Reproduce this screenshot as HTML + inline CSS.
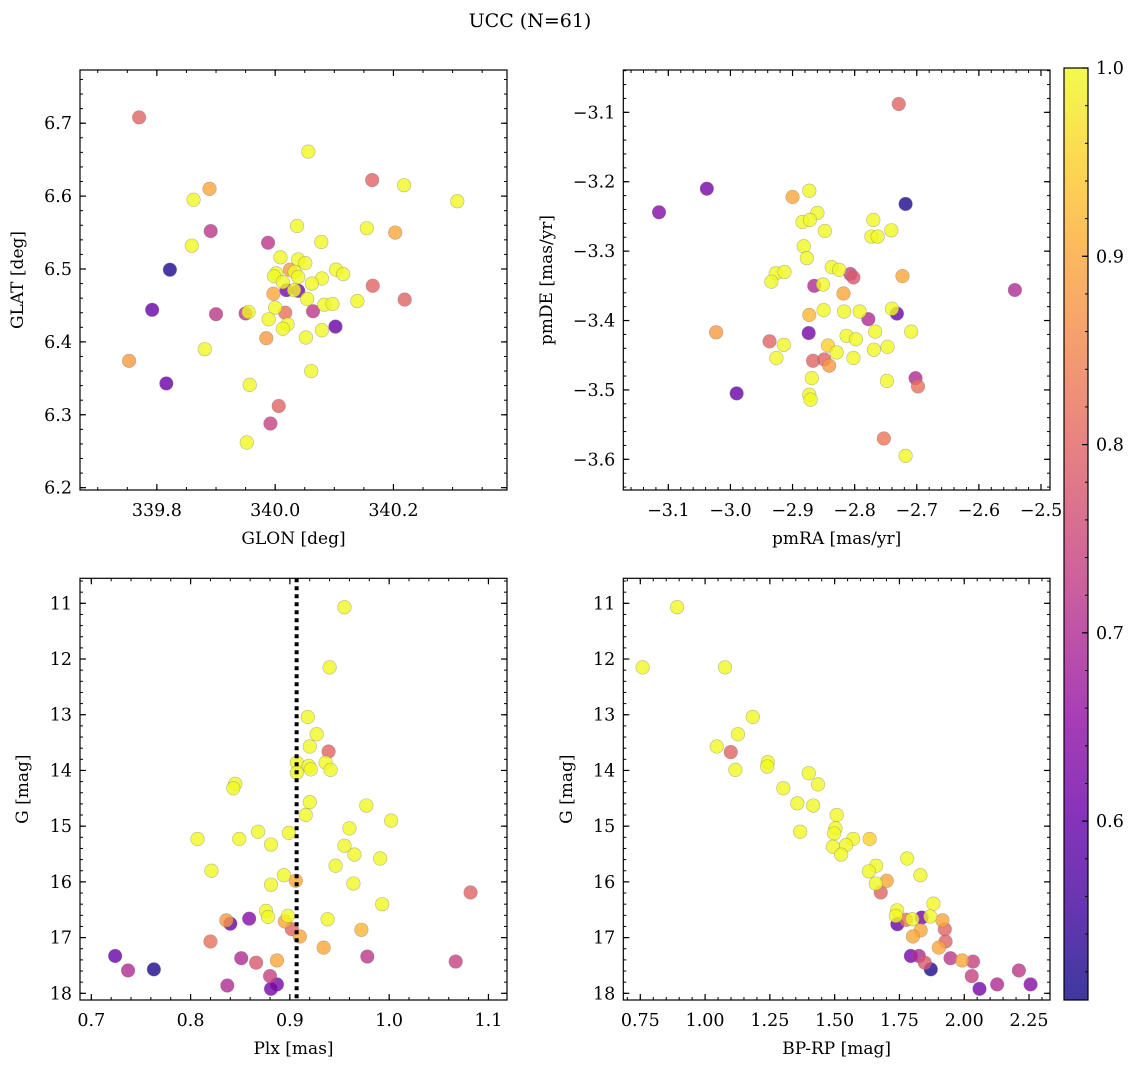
<!DOCTYPE html>
<html><head><meta charset="utf-8"><style>
body{margin:0;background:#fff;}
svg{display:block;font-family:"DejaVu Serif","Liberation Serif",serif;}
</style></head><body>
<svg id="fig" width="1136" height="1068" viewBox="0 0 1136 1068" xmlns="http://www.w3.org/2000/svg">
<rect width="1136" height="1068" fill="#fff"/>
<text x="530" y="27" font-size="19" text-anchor="middle">UCC (N=61)</text>
</svg>
<script>
// ---- Panel 1: GLON / GLAT ----
const glon = [339.770,340.056,340.164,340.218,340.308,339.889,339.862,339.891,340.037,340.155,340.203,339.859,339.988,340.078,340.009,340.039,340.051,339.822,340.025,340.002,340.033,340.103,340.115,339.998,340.039,340.079,340.013,340.062,340.165,340.019,340.039,340.032,339.997,340.054,340.219,340.139,340.083,340.097,339.792,340.000,339.900,339.950,339.955,340.064,340.017,339.989,340.021,340.013,340.079,340.102,339.985,340.052,339.881,339.753,340.061,339.816,339.957,340.006,339.992,339.952];
const glat = [6.708,6.661,6.622,6.615,6.593,6.610,6.595,6.552,6.559,6.556,6.550,6.532,6.536,6.537,6.516,6.513,6.508,6.499,6.499,6.494,6.496,6.499,6.493,6.490,6.489,6.487,6.482,6.480,6.477,6.471,6.470,6.471,6.466,6.459,6.458,6.456,6.451,6.452,6.444,6.447,6.438,6.439,6.441,6.442,6.440,6.431,6.424,6.418,6.416,6.421,6.405,6.406,6.390,6.374,6.360,6.343,6.341,6.312,6.288,6.262];
const prob1 = [0.80,1,0.80,1,1,0.90,1,0.72,1,1,0.90,1,0.72,1,1,1,1,0.52,0.88,1,1,1,1,1,1,1,1,1,0.80,0.62,0.62,1,0.90,1,0.80,1,1,1,0.60,1,0.72,0.72,1,0.72,0.82,1,1,1,1,0.60,0.88,1,1,0.88,1,0.60,1,0.80,0.74,1];
// ---- Panel 2: pmRA / pmDE ----
const pmra = [-2.729,-3.038,-3.115,-2.718,-2.900,-2.873,-2.860,-2.884,-2.872,-2.848,-2.770,-2.773,-2.763,-2.741,-2.882,-2.877,-2.837,-2.825,-2.927,-2.913,-2.934,-2.807,-2.802,-2.723,-2.542,-2.865,-2.851,-2.818,-2.850,-2.817,-2.792,-2.873,-2.778,-2.732,-2.740,-2.874,-3.023,-2.813,-2.798,-2.767,-2.709,-2.937,-2.914,-2.843,-2.829,-2.769,-2.747,-2.926,-2.802,-2.867,-2.849,-2.841,-2.869,-2.702,-2.698,-2.748,-2.990,-2.873,-2.871,-2.753,-2.718];
const pmde = [-3.088,-3.210,-3.244,-3.232,-3.222,-3.213,-3.245,-3.258,-3.255,-3.271,-3.255,-3.279,-3.279,-3.270,-3.293,-3.310,-3.323,-3.327,-3.332,-3.330,-3.344,-3.333,-3.338,-3.336,-3.356,-3.350,-3.348,-3.361,-3.385,-3.387,-3.387,-3.392,-3.398,-3.390,-3.383,-3.418,-3.417,-3.422,-3.427,-3.416,-3.416,-3.430,-3.435,-3.436,-3.446,-3.442,-3.438,-3.454,-3.454,-3.458,-3.456,-3.465,-3.483,-3.483,-3.495,-3.487,-3.505,-3.507,-3.514,-3.570,-3.595];
const prob2 = [0.80,0.62,0.64,0.52,0.90,1,1,1,1,1,1,1,1,1,1,1,1,1,1,1,1,0.74,0.78,0.90,0.70,0.70,1,0.90,1,1,1,0.92,0.70,0.60,1,0.62,0.88,1,1,1,1,0.80,1,0.95,1,1,1,1,1,0.80,0.80,0.88,1,0.70,0.82,1,0.60,1,1,0.83,1];
// ---- Panel 3: Plx / G ----
const plx = [0.955,0.940,0.918,0.927,0.920,0.939,0.907,0.919,0.921,0.936,0.941,0.907,0.845,0.843,0.920,0.916,0.977,1.002,0.960,0.807,0.849,0.868,0.881,0.899,0.955,0.965,0.991,0.946,0.821,0.894,0.906,0.881,0.964,1.082,0.993,0.876,0.878,0.898,0.836,0.840,0.859,0.895,0.902,0.938,0.910,0.972,0.820,0.934,0.724,0.851,0.866,0.887,0.978,1.067,0.737,0.763,0.880,0.887,0.837,0.881];
const gmag3 = [11.07,12.15,13.04,13.35,13.57,13.66,13.86,13.92,13.98,13.86,13.99,14.04,14.24,14.32,14.57,14.80,14.63,14.90,15.04,15.23,15.23,15.10,15.33,15.12,15.35,15.51,15.58,15.71,15.80,15.88,15.98,16.05,16.03,16.19,16.40,16.52,16.63,16.61,16.69,16.75,16.66,16.71,16.85,16.67,16.98,16.86,17.07,17.18,17.33,17.37,17.45,17.41,17.34,17.43,17.59,17.57,17.69,17.84,17.86,17.92];
const prob3 = [1,1,1,1,1,0.80,1,1,1,1,1,1,1,1,1,1,1,1,1,1,1,1,1,1,1,1,1,1,1,1,0.90,1,1,0.80,1,1,1,1,0.88,0.60,0.64,0.90,0.80,1,0.90,0.92,0.82,0.90,0.60,0.70,0.78,0.90,0.72,0.74,0.70,0.52,0.74,0.62,0.70,0.62];
const plxRef = [0.9068];
// ---- Panel 4: BP-RP / G ----
const bprp = [0.892,0.759,1.077,1.184,1.127,1.045,1.099,1.242,1.240,1.117,1.400,1.436,1.302,1.356,1.417,1.508,1.503,1.498,1.367,1.571,1.635,1.544,1.493,1.525,1.780,1.660,1.632,1.831,1.701,1.659,1.678,1.881,1.741,1.736,1.742,1.776,1.800,1.836,1.869,1.916,1.925,1.832,1.802,1.928,1.902,1.794,1.825,1.848,1.947,1.992,2.034,1.871,2.211,2.029,2.059,2.127,2.256];
const gmag4 = [11.07,12.15,12.15,13.04,13.35,13.57,13.67,13.85,13.93,13.99,14.05,14.25,14.32,14.59,14.63,14.80,15.04,15.13,15.10,15.23,15.23,15.34,15.37,15.51,15.58,15.71,15.81,15.88,15.98,16.03,16.19,16.39,16.51,16.61,16.76,16.68,16.67,16.64,16.62,16.69,16.85,16.87,16.98,17.07,17.18,17.33,17.33,17.45,17.37,17.41,17.43,17.57,17.59,17.69,17.92,17.84,17.84];
const prob4 = [1,1,1,1,1,1,0.80,1,1,1,1,1,1,1,1,1,1,1,1,1,0.95,1,1,1,1,1,1,1,0.90,1,0.80,1,1,1,0.60,0.82,1,0.62,1,0.90,0.80,0.90,0.90,0.80,0.90,0.62,0.70,0.78,0.72,0.90,0.74,0.52,0.72,0.74,0.62,0.70,0.64];
// ---- Ticks ----
const ticks1x = [339.8,340.0,340.2], ticks1y = [6.2,6.3,6.4,6.5,6.6,6.7];
const ticks2x = [-3.1,-3.0,-2.9,-2.8,-2.7,-2.6,-2.5], ticks2y = [-3.6,-3.5,-3.4,-3.3,-3.2,-3.1];
const ticks3x = [0.7,0.8,0.9,1.0,1.1], ticksG = [11,12,13,14,15,16,17,18];
const ticks4x = [0.75,1.00,1.25,1.50,1.75,2.00,2.25];
const cbTicks = [0.6,0.7,0.8,0.9,1.0];

const NS = "http://www.w3.org/2000/svg";
const svg = document.getElementById('fig');
const TF = 17.5, LF = 17;
function mk(tag, attrs, parent){const e=document.createElementNS(NS,tag);for(const k in attrs)e.setAttribute(k,attrs[k]);(parent||svg).appendChild(e);return e;}
const stops=[[13,8,135],[65,4,157],[106,0,168],[143,13,164],[177,42,144],[204,71,120],[225,100,98],[242,132,75],[252,166,54],[252,206,37],[240,249,33]];
const VMIN=0.505, VMAX=1.0;
function plasma(t){t=Math.max(0,Math.min(1,t));const f=t*10,i=Math.min(9,Math.floor(f)),u=f-i;const a=stops[i],b=stops[i+1];return 'rgb('+a.map((v,k)=>Math.round(v+(b[k]-v)*u)).join(',')+')';}
function cmap(p){return plasma((p-VMIN)/(VMAX-VMIN));}
function neg(v,d){const s=v.toFixed(d);return s.replace('-','\u2212');}

function panel(cfg){
  const {x0,x1,y0,y1,xd,yd,name}=cfg;
  const sx=v=>x0+(v-xd[0])/(xd[1]-xd[0])*(x1-x0);
  const sy=v=>y0+(v-yd[0])/(yd[1]-yd[0])*(y1-y0);
  const g=mk('g',{});
  
  
  const order=cfg.xs.map((_,i)=>i).sort((a,b)=>cfg.ps[a]-cfg.ps[b]);
  order.forEach(i=>{
    const c=mk('circle',{cx:sx(cfg.xs[i]),cy:sy(cfg.ys[i]),r:6.8,fill:cmap(cfg.ps[i]),'fill-opacity':0.8,stroke:'#777','stroke-opacity':0.5,'stroke-width':0.6},g);
    
    
  });
  if(cfg.vline){cfg.vline.forEach(v=>{const l=mk('line',{x1:sx(v),x2:sx(v),y1:y0,y2:y1,stroke:'#000','stroke-width':4,'stroke-dasharray':'4,4'},g);
    
    });}
  const fr=mk('rect',{x:x0,y:Math.min(y0,y1),width:x1-x0,height:Math.abs(y1-y0),fill:'none',stroke:'#000','stroke-width':1.2},g);
  
  
  const top=Math.min(y0,y1), bot=Math.max(y0,y1);
  const xlo=Math.min(...xd), xhi=Math.max(...xd);
  for(let v=Math.ceil(xlo/cfg.xm-1e-6)*cfg.xm; v<=xhi+1e-9; v+=cfg.xm){const X=sx(v);
    mk('line',{x1:X,x2:X,y1:bot,y2:bot-3,stroke:'#000','stroke-width':1},g);mk('line',{x1:X,x2:X,y1:top,y2:top+3,stroke:'#000','stroke-width':1},g);}
  const ylo=Math.min(...yd), yhi=Math.max(...yd);
  for(let v=Math.ceil(ylo/cfg.ym-1e-6)*cfg.ym; v<=yhi+1e-9; v+=cfg.ym){const Y=sy(v);
    mk('line',{x1:x0,x2:x0+3,y1:Y,y2:Y,stroke:'#000','stroke-width':1},g);mk('line',{x1:x1,x2:x1-3,y1:Y,y2:Y,stroke:'#000','stroke-width':1},g);}
  cfg.xt.forEach(v=>{const X=sx(v);
    mk('line',{x1:X,x2:X,y1:bot,y2:bot-6,stroke:'#000','stroke-width':1.2},g);mk('line',{x1:X,x2:X,y1:top,y2:top+6,stroke:'#000','stroke-width':1.2},g);
    const t=mk('text',{x:X,y:bot+26,'font-size':TF,'text-anchor':'middle'},g);t.textContent=neg(v,cfg.xdec);
    
    });
  cfg.yt.forEach(v=>{const Y=sy(v);
    mk('line',{x1:x0,x2:x0+6,y1:Y,y2:Y,stroke:'#000','stroke-width':1.2},g);mk('line',{x1:x1,x2:x1-6,y1:Y,y2:Y,stroke:'#000','stroke-width':1.2},g);
    const t=mk('text',{x:x0-8,y:Y+6,'font-size':TF,'text-anchor':'end'},g);t.textContent=neg(v,cfg.ydec);
    
    });
  const xl=mk('text',{x:(x0+x1)/2,y:bot+54,'font-size':LF,'text-anchor':'middle'},g);xl.textContent=cfg.xlab;
  
  
  const ylx=cfg.ylx, cy=(top+bot)/2;
  const yl=mk('text',{x:ylx,y:cy,'font-size':LF,'text-anchor':'middle',transform:'rotate(-90 '+ylx+' '+cy+')'},g);yl.textContent=cfg.ylab;
  
  
}
panel({name:'glon-glat-panel',x0:80,x1:507,y0:490,y1:70,xd:[339.670,340.392],yd:[6.1968,6.773],xs:glon,ys:glat,ps:prob1,xt:ticks1x,yt:ticks1y,xm:0.05,ym:0.02,xdec:1,ydec:1,xlab:'GLON [deg]',ylab:'GLAT [deg]',ylx:23});
panel({name:'pm-panel',x0:623.3,x1:1050,y0:490,y1:70,xd:[-3.1725,-2.4855],yd:[-3.6442,-3.039],xs:pmra,ys:pmde,ps:prob2,xt:ticks2x,yt:ticks2y,xm:0.02,ym:0.02,xdec:1,ydec:1,xlab:'pmRA [mas/yr]',ylab:'pmDE [mas/yr]',ylx:552});
panel({name:'plx-g-panel',x0:80,x1:507,y0:578.3,y1:1000,xd:[0.6886,1.1187],yd:[10.551,18.12],xs:plx,ys:gmag3,ps:prob3,xt:ticks3x,yt:ticksG,xm:0.02,ym:0.2,xdec:1,ydec:0,xlab:'Plx [mas]',ylab:'G [mag]',ylx:28,vline:plxRef});
panel({name:'cmd-panel',x0:623.3,x1:1050,y0:578.3,y1:1000,xd:[0.6844,2.331],yd:[10.551,18.12],xs:bprp,ys:gmag4,ps:prob4,xt:ticks4x,yt:ticksG,xm:0.05,ym:0.2,xdec:2,ydec:0,xlab:'BP-RP [mag]',ylab:'G [mag]',ylx:572});

// ---- Colorbar ----
(function(){
  const cx0=1064,cx1=1088,ct=68,cb=1000;
  const sy=v=>cb-(v-VMIN)/(VMAX-VMIN)*(cb-ct);
  const g=mk('g',{});
  
  
  const defs=mk('defs',{},g);
  const lg=mk('linearGradient',{id:'pl',x1:0,y1:1,x2:0,y2:0},defs);
  for(let i=0;i<=20;i++){mk('stop',{offset:i/20,'stop-color':plasma(i/20)},lg);}
  mk('rect',{x:cx0,y:ct,width:cx1-cx0,height:cb-ct,fill:'url(#pl)','fill-opacity':0.8},g);
  mk('rect',{x:cx0,y:ct,width:cx1-cx0,height:cb-ct,fill:'none',stroke:'#000','stroke-width':1.2},g);
  for(let v=0.52;v<=1.0001;v+=0.02){const Y=sy(v);mk('line',{x1:cx1,x2:cx1-3,y1:Y,y2:Y,stroke:'#000','stroke-width':1},g);}
  cbTicks.forEach(v=>{const Y=sy(v);
    mk('line',{x1:cx1,x2:cx1-6,y1:Y,y2:Y,stroke:'#000','stroke-width':1.2},g);
    const t=mk('text',{x:cx1+8,y:Y+6,'font-size':TF},g);t.textContent=v.toFixed(1);
    
    });
})();
</script>
</body></html>
